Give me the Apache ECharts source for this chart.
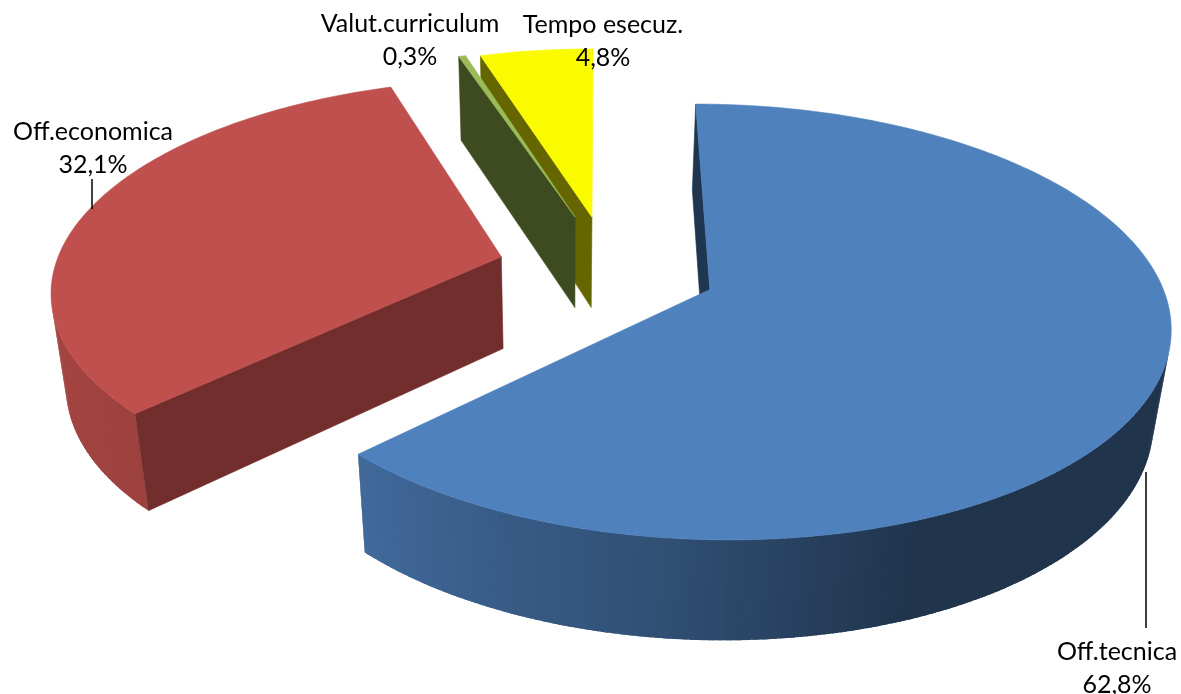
<!DOCTYPE html>
<html>
<head>
<meta charset="utf-8">
<style>
html, body { margin: 0; padding: 0; background: #fff; }
#main { width: 1181px; height: 694px; }
</style>
<script src="https://cdn.jsdelivr.net/npm/echarts@6/dist/echarts.min.js"></script>
</head>
<body>
<div id="main"></div>
<script>
var categories = ['Off.tecnica', 'Off.economica', 'Valut.curriculum', 'Tempo esecuz.'];
var shares = [62.8, 32.1, 0.3, 4.8];

// aspetto delle fette
var topColors = [[79, 129, 189], [192, 80, 77], [155, 187, 89], [250, 250, 0]];
var cutColors = ['#1f3550', '#722e2c', '#3e4b21', '#666600'];
var explode = [[0.24, 0.0975], [-0.225, -0.06], [-0.06, -0.26], [-0.021, -0.26]];
var labelPos = [[1117, 668], [93, 148], [410, 40], [603, 41]];
var leaders = [[1146, 472, 1146, 628], [92, 179, 92, 209]];
var drawOrder = [3, 2, 1, 0];

// proiezione prospettica del disco
var CX = 601, CY = 269, RX = 447, RY = 207, PERSP = 0.147, DEPTH = 95, SINK = 0.029;
var FIRST_ANGLE = 0;

function project(x, z, bottom) {
    var d = 1 - PERSP * z + (bottom ? SINK : 0);
    return [
        CX - (bottom ? 1 : 0) + RX * x / d,
        CY + (RY * z + (bottom ? DEPTH : 0)) / d
    ];
}

function rimPoint(i, deg, bottom) {
    var a = deg * Math.PI / 180;
    return project(explode[i][0] + Math.sin(a), explode[i][1] - Math.cos(a), bottom);
}

function apexPoint(i, bottom) {
    return project(explode[i][0], explode[i][1], bottom);
}

// sfumatura del bordo in funzione dell'angolo
var shadeAngles = [0, 158, 188, 226, 270, 360];
var shadeValues = [0.40, 0.40, 0.62, 0.82, 0.88, 0.88];
function shade(rgb, deg) {
    var f = shadeValues[0];
    for (var k = 1; k < shadeAngles.length; k++) {
        if (deg <= shadeAngles[k]) {
            var t = (deg - shadeAngles[k - 1]) / (shadeAngles[k] - shadeAngles[k - 1]);
            f = shadeValues[k - 1] + t * (shadeValues[k] - shadeValues[k - 1]);
            break;
        }
    }
    return 'rgb(' + rgb.map(function (c) { return Math.round(c * f); }).join(',') + ')';
}

function cross(p0, p1, p2) {
    return (p1[0] - p0[0]) * (p2[1] - p1[1]) - (p1[1] - p0[1]) * (p2[0] - p1[0]);
}

function poly(points, fill, noStroke) {
    return {
        type: 'polygon',
        shape: { points: points },
        style: noStroke ? { fill: fill } : { fill: fill, stroke: fill, lineWidth: 0.6 }
    };
}

var total = shares.reduce(function (s, v) { return s + v; }, 0);
var starts = [];
var run = FIRST_ANGLE;
shares.forEach(function (v) {
    starts.push(run);
    run += v / total * 360;
});

var seriesData = drawOrder.map(function (i) {
    return { name: categories[i], value: [i, starts[i], starts[i] + shares[i] / total * 360, shares[i]] };
});

function renderSlice(params, api) {
    var i = api.value(0), from = api.value(1), to = api.value(2), share = api.value(3);
    var children = [];
    var fill = 'rgb(' + topColors[i].join(',') + ')';
    var step = 1, deg;

    // bordo esterno, solo la parte rivolta verso chi guarda; ogni tratto copre un po' il successivo
    for (deg = from; deg < to; deg += step) {
        var next = Math.min(deg + step, to);
        var over = Math.min(next + 0.8, to);
        var a = rimPoint(i, deg, false), b = rimPoint(i, over, false);
        var c = rimPoint(i, over, true), d = rimPoint(i, deg, true);
        if (cross(a, b, c) < 0) {
            children.push(poly([a, b, c, d], shade(topColors[i], (deg + next) / 2), true));
        }
    }

    // facce di taglio
    var apexTop = apexPoint(i, false), apexBottom = apexPoint(i, true);
    var startTop = rimPoint(i, from, false), startBottom = rimPoint(i, from, true);
    var endTop = rimPoint(i, to, false), endBottom = rimPoint(i, to, true);
    if (cross(apexTop, startTop, startBottom) < 0) {
        children.push(poly([apexTop, startTop, startBottom, apexBottom], cutColors[i]));
    }
    if (cross(apexTop, endTop, endBottom) > 0) {
        children.push(poly([apexTop, endTop, endBottom, apexBottom], cutColors[i]));
    }

    // faccia superiore
    var top = [apexTop];
    for (deg = from; deg < to; deg += step) {
        top.push(rimPoint(i, deg, false));
    }
    top.push(endTop);
    children.push(poly(top, fill));

    // etichetta
    children.push({
        type: 'text',
        z2: 10,
        style: {
            x: labelPos[i][0],
            y: labelPos[i][1],
            text: categories[i] + '\n' + share.toFixed(1).replace('.', ',') + '%',
            font: '25px Lato',
            lineHeight: 33,
            fill: '#000',
            align: 'center',
            verticalAlign: 'middle'
        }
    });

    return { type: 'group', children: children };
}

function renderLeader(params, api) {
    return {
        type: 'line',
        shape: { x1: api.value(0), y1: api.value(1), x2: api.value(2), y2: api.value(3) },
        style: { stroke: '#000', lineWidth: 1.5 }
    };
}

var myChart = echarts.init(document.getElementById('main'));

var option = {
    backgroundColor: '#fff',
    animation: false,
    series: [
        {
            type: 'custom',
            coordinateSystem: 'none',
            renderItem: renderSlice,
            data: seriesData,
            silent: true
        },
        {
            type: 'custom',
            coordinateSystem: 'none',
            renderItem: renderLeader,
            data: leaders,
            silent: true,
            z: 5
        }
    ]
};

myChart.setOption(option, true);
</script>
</body>
</html>
